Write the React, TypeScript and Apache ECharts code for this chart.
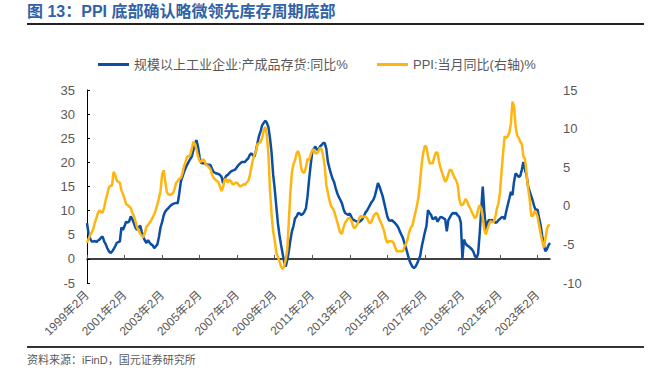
import React, { useEffect, useRef } from "react";
import * as echarts from "echarts";

// 规模以上工业企业:产成品存货:同比% (monthly, 1999-02 .. 2023-10)
const inventoryYoY: number[] = [
  // 1999 (Feb-Dec)
  7.4, 5.2, 4.2, 3.6, 3.6, 3.7, 3.5, 3.8, 4.0, 4.4, 4.6,
  // 2000
  3.6, 3.0, 2.2, 1.6, 1.2, 1.5, 2.0, 2.6, 3.3, 3.5, 3.6, 6.5,
  // 2001
  6.0, 6.8, 7.7, 7.5, 7.8, 8.8, 8.2, 7.4, 6.5, 6.0, 6.5, 6.9,
  // 2002
  5.6, 4.6, 3.8, 3.3, 3.9, 3.4, 3.0, 2.8, 2.2, 2.6, 3.0, 4.6,
  // 2003
  6.5, 7.6, 9.0, 9.8, 10.2, 10.5, 10.9, 11.2, 11.4, 11.5, 11.6, 11.5,
  // 2004
  13.6, 16.0, 17.0, 18.0, 18.8, 19.5, 20.1, 20.7, 21.2, 22.5, 24.0, 24.6,
  // 2005
  23.2, 21.0, 19.9, 19.8, 19.8, 19.6, 19.5, 19.5, 19.4, 18.6, 18.0, 17.8,
  // 2006
  17.7, 17.6, 17.4, 17.0, 15.7, 16.6, 17.2, 17.4, 17.8, 18.1, 18.3, 18.4,
  // 2007
  18.6, 19.1, 19.5, 19.8, 20.1, 20.1, 20.1, 20.5, 20.8, 21.5, 21.9, 21.5,
  // 2008
  21.2, 22.4, 24.0, 25.5, 26.5, 27.7, 28.2, 28.6, 28.2, 27.3, 25.0, 22.0,
  // 2009
  17.5, 14.5, 11.0, 7.5, 5.0, 3.0, 1.2, -0.5, -1.6, -0.3, 1.5, 3.8,
  // 2010
  5.7, 6.8, 8.4, 8.8, 9.5, 9.4, 9.1, 9.3, 9.8, 10.5, 13.0, 16.5,
  // 2011
  19.5, 22.2, 22.8, 23.3, 22.6, 22.6, 23.3, 23.6, 24.0, 24.0, 22.8, 20.1,
  // 2012
  18.8, 17.6, 16.6, 15.9, 14.6, 13.6, 12.8, 12.2, 11.5, 10.3, 9.5, 9.3,
  // 2013
  9.1, 9.4, 8.7, 8.1, 8.0, 7.8, 7.7, 7.6, 7.9, 8.2, 8.8, 9.6,
  // 2014
  10.0, 10.6, 11.2, 11.8, 12.2, 13.0, 14.3, 15.7, 15.0, 14.0, 13.0, 11.6,
  // 2015
  10.2, 8.8, 8.0, 7.9, 8.0, 7.7, 7.4, 7.0, 6.5, 5.7, 5.0, 4.3,
  // 2016
  3.2, 2.2, 1.0, -0.2, -1.0, -1.6, -1.9, -1.6, -1.0, -0.2, 0.6, 2.5,
  // 2017
  4.0, 5.5, 6.8, 10.1, 9.5, 9.1, 8.2, 8.4, 8.7, 7.7, 8.2, 8.7,
  // 2018
  8.6, 8.4, 8.2, 5.7, 8.0, 8.6, 9.2, 9.5, 9.4, 9.5, 9.0, 8.7,
  // 2019
  7.5, 0.0, 4.0, 3.2, 2.8, 2.6, 2.3, 2.0, 1.5, 0.6, 0.2, 1.0,
  // 2020
  5.0, 10.0, 15.0, 10.0, 6.0, 7.5, 8.1, 7.9, 8.1, 7.8, 7.5, 7.6,
  // 2021
  8.0, 8.3, 8.6, 8.7, 8.2, 9.8, 11.2, 12.5, 13.9, 13.2, 16.0, 17.7,
  // 2022
  17.4, 17.0, 17.2, 18.5, 20.1, 18.5, 17.4, 15.0, 14.0, 13.0, 12.0, 10.8,
  // 2023 (Jan-Oct)
  10.0, 10.3, 8.5, 7.0, 4.8, 3.0, 1.6, 2.0, 2.8, 3.3,
];

// PPI:当月同比 (right axis)
const ppiYoY: number[] = [
  // 1999 (Feb-Dec)
  -4.8, -4.3, -3.8, -3.5, -3.0, -2.2, -1.6, -0.9, -0.6, -0.8, -0.9,
  // 2000
  -0.2, 0.8, 1.5, 2.4, 2.6, 2.6, 4.4, 4.0, 3.3, 3.1, 3.0, 2.0,
  // 2001
  1.5, 0.9, 0.2, 0.1, -0.1, -0.3, -0.9, -1.3, -2.0, -2.8, -3.2, -3.6,
  // 2002
  -3.9, -4.1, -3.5, -2.7, -2.5, -2.2, -1.9, -1.5, -1.1, -0.5, 0.2, 1.0,
  // 2003
  1.9, 4.0, 4.6, 3.2, 1.8, 1.5, 1.4, 1.5, 1.6, 2.2, 3.0, 3.2,
  // 2004
  3.5, 3.6, 4.2, 5.1, 5.7, 6.4, 6.4, 6.6, 7.4, 8.3, 8.0, 7.3,
  // 2005
  6.4, 5.8, 5.7, 6.0, 5.9, 5.3, 5.2, 5.0, 4.7, 4.0, 3.6, 3.4,
  // 2006
  3.2, 3.1, 2.5, 1.9, 2.4, 3.4, 3.5, 3.0, 3.4, 3.2, 2.8, 2.8,
  // 2007
  3.0, 3.0, 2.7, 2.5, 2.6, 2.8, 2.7, 3.0, 3.2, 3.8, 4.9, 5.9,
  // 2008
  6.6, 7.0, 8.0, 8.1, 8.3, 8.8, 9.8, 10.2, 9.1, 6.6, 2.0, -1.1,
  // 2009
  -3.3, -4.5, -6.0, -6.6, -7.2, -7.8, -8.2, -7.9, -7.0, -5.8, -2.1, 1.7,
  // 2010
  4.3, 5.4, 5.9, 6.8, 7.1, 6.4, 4.8, 4.3, 4.3, 5.0, 6.1, 5.9,
  // 2011
  6.6, 7.2, 7.3, 6.8, 6.8, 7.1, 7.5, 7.3, 6.5, 5.0, 2.7, 1.7,
  // 2012
  0.7, 0.0, -0.3, -0.7, -1.4, -2.1, -2.9, -3.5, -3.6, -2.8, -2.2, -1.9,
  // 2013
  -1.6, -1.6, -1.9, -2.6, -2.9, -2.7, -2.3, -1.6, -1.3, -1.5, -1.4, -1.4,
  // 2014
  -1.6, -2.0, -2.3, -2.0, -1.4, -1.1, -0.9, -1.2, -1.8, -2.2, -2.7, -3.3,
  // 2015
  -4.3, -4.8, -4.6, -4.6, -4.6, -4.8, -5.4, -5.9, -5.9, -5.9, -5.9, -5.9,
  // 2016
  -5.3, -4.9, -4.3, -3.4, -2.8, -2.6, -1.7, -0.8, 0.1, 1.2, 3.3, 5.5,
  // 2017
  6.9, 7.8, 7.6, 6.4, 5.5, 5.5, 5.5, 6.3, 6.9, 6.9, 5.8, 4.9,
  // 2018
  4.3, 3.7, 3.1, 3.4, 4.1, 4.7, 4.6, 4.1, 3.6, 3.3, 2.7, 0.9,
  // 2019
  0.1, 0.1, 0.4, 0.9, 0.6, 0.0, -0.3, -0.8, -1.2, -1.6, -1.4, -0.5,
  // 2020
  0.1, -0.4, -1.5, -3.1, -3.7, -3.0, -2.4, -2.0, -2.1, -2.1, -1.5, -0.4,
  // 2021
  0.3, 1.7, 4.4, 6.8, 9.0, 8.8, 9.0, 9.5, 10.7, 13.5, 12.9, 10.3,
  // 2022
  9.1, 8.8, 8.3, 8.0, 6.4, 6.1, 4.2, 2.3, 0.9, -1.3, -1.3, -0.7,
  // 2023 (Jan-Oct)
  -0.8, -1.4, -2.5, -3.6, -4.6, -5.4, -4.4, -3.0, -2.5, -2.6,
];

const START_YEAR = 1999;
const START_MONTH = 2;
const months: string[] = inventoryYoY.map((_, i) => {
  const idx = START_MONTH - 1 + i;
  return `${START_YEAR + Math.floor(idx / 12)}年${(idx % 12) + 1}月`;
});

const SERIES_INV = "规模以上工业企业:产成品存货:同比%";
const SERIES_PPI = "PPI:当月同比(右轴)%";
const TITLE = "图 13：PPI 底部确认略微领先库存周期底部";
const SOURCE = "资料来源：iFinD，国元证券研究所";

const BLUE = "#0B4EA2";
const YELLOW = "#FFB50F";
const GRAY = "#595959";
const FONT = "'Liberation Sans', 'Noto Sans CJK SC', sans-serif";

export default function App() {
  const ref = useRef<HTMLDivElement>(null);
  useEffect(() => {
    if (!ref.current) return;
    const chart = echarts.init(ref.current, undefined, { renderer: "svg" });
    const legendCommon = {
      top: 53,
      icon: "rect",
      itemWidth: 31,
      itemHeight: 3,
      itemGap: 10,
      textStyle: { fontSize: 13, color: GRAY, fontFamily: FONT },
    };
    chart.setOption({
      animation: false,
      textStyle: { fontFamily: FONT },
      grid: { left: 87, right: 101, top: 90, bottom: 92 },
      legend: [
        { ...legendCommon, left: 93, data: [SERIES_INV] },
        { ...legendCommon, left: 372, data: [SERIES_PPI] },
      ],
      xAxis: {
        type: "category",
        data: months,
        boundaryGap: false,
        axisLine: { onZero: true, lineStyle: { color: "#000", width: 1.5 } },
        axisTick: { interval: 23, inside: true, length: 4, lineStyle: { color: GRAY } },
        axisLabel: { interval: 23, rotate: 45, fontSize: 12, color: GRAY, margin: 10, fontFamily: FONT },
        splitLine: { show: false },
      },
      yAxis: [
        {
          type: "value",
          min: -5,
          max: 35,
          interval: 5,
          axisLine: { show: true, lineStyle: { color: "#000", width: 1 } },
          axisTick: { show: true, inside: true, length: 3, lineStyle: { color: "#000" } },
          axisLabel: { fontSize: 13, color: GRAY, margin: 12, fontFamily: FONT, showMinLabel: true },
          splitLine: { show: false },
        },
        {
          type: "value",
          position: "right",
          min: -10,
          max: 15,
          interval: 5,
          axisLine: { show: false },
          axisTick: { show: false },
          axisLabel: { fontSize: 13, color: GRAY, margin: 13, fontFamily: FONT },
          splitLine: { show: false },
        },
      ],
      series: [
        {
          name: SERIES_INV,
          type: "line",
          yAxisIndex: 0,
          data: inventoryYoY,
          showSymbol: false,
          symbol: "none",
          lineStyle: { color: BLUE, width: 2.5 },
          itemStyle: { color: BLUE },
        },
        {
          name: SERIES_PPI,
          type: "line",
          yAxisIndex: 1,
          data: ppiYoY,
          showSymbol: false,
          symbol: "none",
          lineStyle: { color: YELLOW, width: 2.5 },
          itemStyle: { color: YELLOW },
        },
      ],
      graphic: [
        {
          type: "text",
          x: 27,
          y: 11,
          style: {
            text: TITLE,
            fontSize: 16,
            fontWeight: "bold",
            fill: "#2F62A8",
            fontFamily: FONT,
            textVerticalAlign: "middle",
            verticalAlign: "middle",
          },
        },
        {
          type: "line",
          shape: { x1: 27, y1: 24, x2: 644, y2: 24 },
          style: { stroke: "#222", lineWidth: 2 },
        },
        {
          type: "line",
          shape: { x1: 27, y1: 347, x2: 644, y2: 347 },
          style: { stroke: "#333", lineWidth: 2 },
        },
        {
          type: "text",
          x: 27,
          y: 360,
          style: {
            text: SOURCE,
            fontSize: 11,
            fill: GRAY,
            fontFamily: FONT,
            textVerticalAlign: "middle",
            verticalAlign: "middle",
          },
        },
      ],
    });
    return () => chart.dispose();
  }, []);
  return (
    <div
      ref={ref}
      style={{ position: "fixed", left: 0, top: 0, width: 651, height: 375, background: "#fff" }}
    />
  );
}
